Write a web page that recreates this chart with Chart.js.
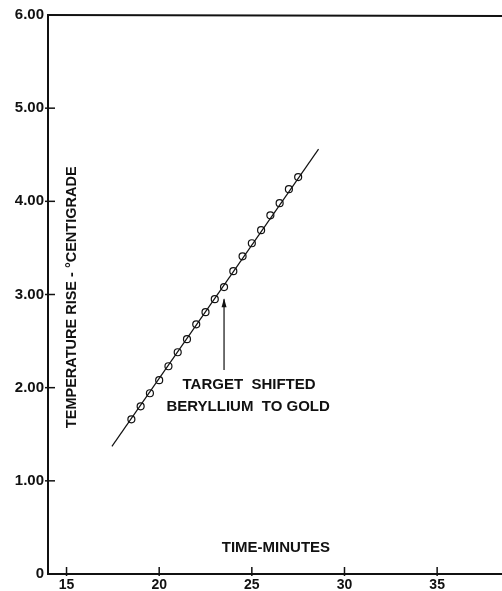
<!DOCTYPE html>
<html>
<head>
<meta charset="utf-8">
<script src="https://cdn.jsdelivr.net/npm/chart.js@4.4.1/dist/chart.umd.min.js"></script>
<style>
  html, body { margin: 0; padding: 0; background: #fff; }
  #wrap { width: 502px; height: 591px; }
</style>
</head>
<body>
<div id="wrap"><canvas id="chart" width="502" height="591"></canvas></div>
<script>
// ── Data ──────────────────────────────────────
const times = [18.5, 19, 19.5, 20, 20.5, 21, 21.5, 22, 22.5, 23, 23.5, 24, 24.5, 25, 25.5, 26, 26.5, 27, 27.5];
const tempRise = [1.66, 1.80, 1.94, 2.08, 2.23, 2.38, 2.52, 2.68, 2.81, 2.95, 3.08, 3.25, 3.41, 3.55, 3.69, 3.85, 3.98, 4.13, 4.26];
const fitTimes = [17.45, 28.6];
const fitTemps = [1.37, 4.56];
const xTicks = [15, 20, 25, 30, 35];
const yTicks = [0, 1, 2, 3, 4, 5, 6];
const FONT = '"Liberation Sans", "DejaVu Sans", sans-serif';

// ── Plate furniture: inside ticks, top rule, texts, arrow ──
const platePlugin = {
  id: 'plate',
  afterDraw(chart) {
    const { ctx, chartArea: ca, scales: { x, y } } = chart;
    ctx.save();
    ctx.strokeStyle = '#111';
    ctx.fillStyle = '#111';

    // top rule
    ctx.lineWidth = 2;
    ctx.beginPath();
    ctx.moveTo(ca.left - 1, ca.top);
    ctx.lineTo(ca.right, ca.top + 1);
    ctx.stroke();

    // inside tick marks
    ctx.lineWidth = 1.5;
    yTicks.slice(1, -1).forEach(v => {
      const py = y.getPixelForValue(v);
      ctx.beginPath();
      ctx.moveTo(ca.left - 3, py);
      ctx.lineTo(ca.left + 7, py);
      ctx.stroke();
    });
    xTicks.forEach(v => {
      const px = x.getPixelForValue(v);
      ctx.beginPath();
      ctx.moveTo(px, ca.bottom + 2);
      ctx.lineTo(px, ca.bottom - 7);
      ctx.stroke();
    });

    // arrow
    const ax = x.getPixelForValue(23.5);
    const ay0 = y.getPixelForValue(2.19);
    const ay1 = y.getPixelForValue(2.95);
    ctx.lineWidth = 1.2;
    ctx.beginPath();
    ctx.moveTo(ax, ay0);
    ctx.lineTo(ax, ay1);
    ctx.stroke();
    ctx.beginPath();
    ctx.moveTo(ax, ay1 - 1);
    ctx.lineTo(ax - 2.5, ay1 + 8);
    ctx.lineTo(ax + 2.5, ay1 + 8);
    ctx.closePath();
    ctx.fill();

    // texts
    ctx.textAlign = 'center';
    ctx.textBaseline = 'middle';
    ctx.font = 'bold 15px ' + FONT;
    ctx.fillText('TARGET  SHIFTED', x.getPixelForValue(24.85), y.getPixelForValue(2.03));
    ctx.fillText('BERYLLIUM  TO GOLD', x.getPixelForValue(24.8), y.getPixelForValue(1.79));
    ctx.fillText('TIME-MINUTES', x.getPixelForValue(26.3), y.getPixelForValue(0.28));

    ctx.font = 'bold 14.5px ' + FONT;
    ctx.translate(x.getPixelForValue(15.27), y.getPixelForValue(2.97));
    ctx.rotate(-Math.PI / 2);
    ctx.fillText('TEMPERATURE RISE - °CENTIGRADE', 0, 0);
    ctx.restore();
  }
};

new Chart(document.getElementById('chart').getContext('2d'), {
  type: 'scatter',
  data: {
    datasets: [
      {
        type: 'line',
        data: fitTimes.map((t, i) => ({ x: t, y: fitTemps[i] })),
        borderColor: '#111',
        borderWidth: 1.2,
        pointRadius: 0,
        fill: false
      },
      {
        data: times.map((t, i) => ({ x: t, y: tempRise[i] })),
        pointRadius: 3.5,
        pointBackgroundColor: '#fff',
        pointBorderColor: '#111',
        pointBorderWidth: 1.2
      }
    ]
  },
  options: {
    responsive: false,
    animation: false,
    layout: { autoPadding: false, padding: { top: 15, right: 0, left: 0, bottom: 0 } },
    plugins: { legend: { display: false }, tooltip: { enabled: false } },
    scales: {
      x: {
        type: 'linear', min: 14, max: 38.5,
        afterBuildTicks: axis => { axis.ticks = xTicks.map(v => ({ value: v })); },
        afterFit: axis => { axis.height = 17; axis.paddingLeft = 0; axis.paddingRight = 0; },
        grid: { display: false },
        border: { display: true, color: '#111', width: 2 },
        ticks: { color: '#111', padding: -5, maxRotation: 0, autoSkip: false,
                 font: { family: FONT, size: 14, weight: 'bold' } }
      },
      y: {
        type: 'linear', min: 0, max: 6,
        afterBuildTicks: axis => { axis.ticks = yTicks.map(v => ({ value: v })); },
        afterFit: axis => { axis.width = 48; axis.paddingTop = 0; axis.paddingBottom = 0; },
        grid: { display: false },
        border: { display: true, color: '#111', width: 2 },
        ticks: { color: '#111', padding: -4,
                 callback: v => v === 0 ? '0' : v.toFixed(2),
                 font: { family: FONT, size: 15, weight: 'bold' } }
      }
    }
  },
  plugins: [platePlugin]
});
</script>
</body>
</html>
